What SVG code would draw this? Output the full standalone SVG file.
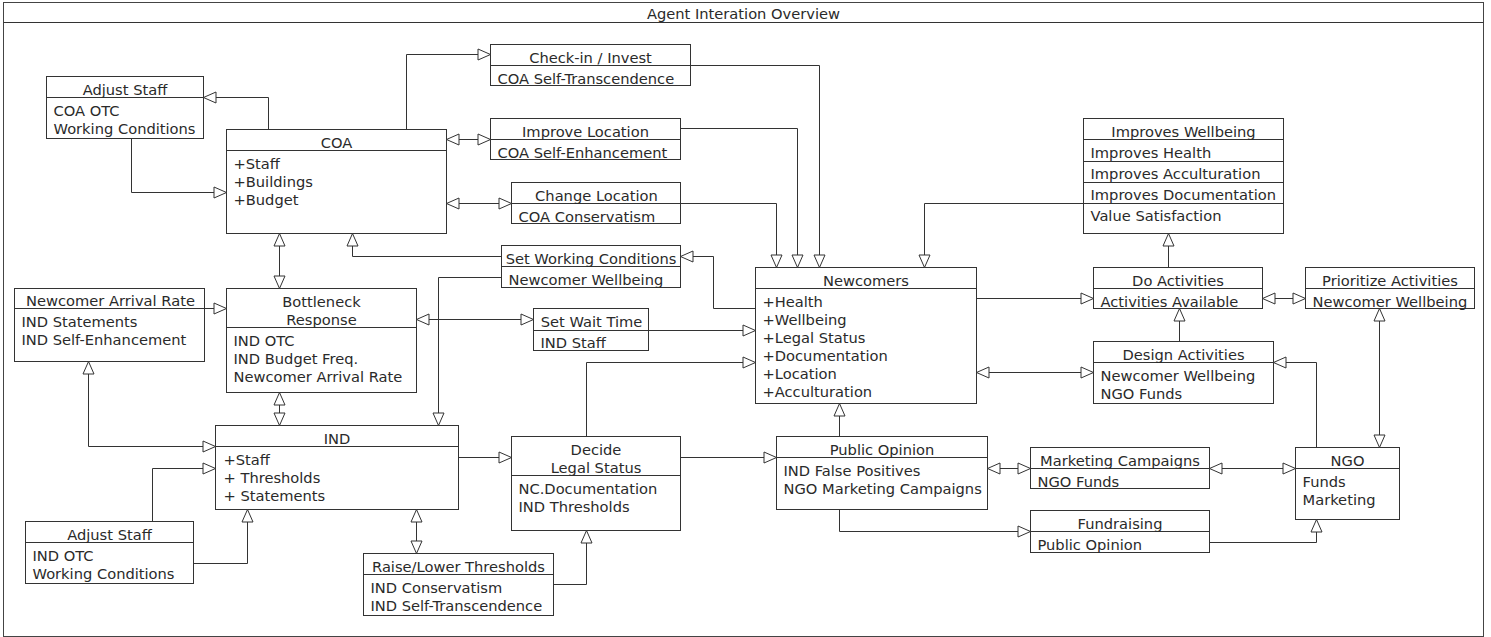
<svg xmlns="http://www.w3.org/2000/svg" width="1491" height="637" viewBox="0 0 1491 637">
  <style>
    .box { fill: #fff; stroke: #333; stroke-width: 1; }
    .sep { stroke: #333; stroke-width: 1; }
    .t { font-family: "DejaVu Sans", "Liberation Sans", sans-serif; font-size: 14.67px; fill: #2a2a2a; }
    .c { text-anchor: middle; }
    .wire { fill: none; stroke: #333; stroke-width: 1; marker-end: url(#tri); }
    .both { marker-start: url(#tri); }
    .frame { fill: #fff; stroke: #444; stroke-width: 1; }
  </style>
  <defs>
    <marker id="tri" viewBox="0 0 13 12" refX="13" refY="6" markerWidth="13" markerHeight="12" markerUnits="userSpaceOnUse" orient="auto-start-reverse" overflow="visible">
      <path d="M0.5,0.5 L13,6 L0.5,11.5 Z" fill="#fff" stroke="#333" stroke-width="1"/>
    </marker>
  </defs>
  <rect width="1491" height="637" fill="#fff"/>
  <g transform="translate(0.5,0.5)">
    <!-- outer frame with title bar -->
    <g id="frame">
      <rect class="frame" x="3" y="2" width="1480" height="634"/>
      <line class="sep" x1="3" y1="22" x2="1483" y2="22"/>
      <text class="t c" x="743" y="18.5">Agent Interation Overview</text>
    </g>

    <g id="adjust-staff-coa">
      <rect class="box" x="46" y="76" width="157" height="62"/>
      <line class="sep" x1="46" y1="97" x2="203" y2="97"/>
      <text class="t c" x="124.5" y="94">Adjust Staff</text>
      <text class="t" x="53" y="115">COA OTC</text>
      <text class="t" x="53" y="133">Working Conditions</text>
    </g>

    <g id="coa">
      <rect class="box" x="226" y="129" width="220" height="104"/>
      <line class="sep" x1="226" y1="150" x2="446" y2="150"/>
      <text class="t c" x="336" y="147">COA</text>
      <text class="t" x="233" y="168">+Staff</text>
      <text class="t" x="233" y="186">+Buildings</text>
      <text class="t" x="233" y="204">+Budget</text>
    </g>

    <g id="check-in-invest">
      <rect class="box" x="490" y="44" width="200" height="41"/>
      <line class="sep" x1="490" y1="65" x2="690" y2="65"/>
      <text class="t c" x="590" y="62">Check-in / Invest</text>
      <text class="t" x="497" y="83">COA Self-Transcendence</text>
    </g>

    <g id="improve-location">
      <rect class="box" x="490" y="118" width="190" height="41"/>
      <line class="sep" x1="490" y1="139" x2="680" y2="139"/>
      <text class="t c" x="585" y="136">Improve Location</text>
      <text class="t" x="497" y="157">COA Self-Enhancement</text>
    </g>

    <g id="change-location">
      <rect class="box" x="511" y="182" width="169" height="41"/>
      <line class="sep" x1="511" y1="203" x2="680" y2="203"/>
      <text class="t c" x="596" y="200">Change Location</text>
      <text class="t" x="518" y="221">COA Conservatism</text>
    </g>

    <g id="set-working-conditions">
      <rect class="box" x="501" y="245" width="179" height="42"/>
      <line class="sep" x1="501" y1="266" x2="680" y2="266"/>
      <text class="t c" x="590.5" y="263">Set Working Conditions</text>
      <text class="t" x="508" y="284">Newcomer Wellbeing</text>
    </g>

    <g id="set-wait-time">
      <rect class="box" x="533" y="308" width="115" height="42"/>
      <line class="sep" x1="533" y1="330" x2="648" y2="330"/>
      <text class="t c" x="591" y="326">Set Wait Time</text>
      <text class="t" x="540" y="347">IND Staff</text>
    </g>

    <g id="newcomers">
      <rect class="box" x="755" y="267" width="221" height="136"/>
      <line class="sep" x1="755" y1="288" x2="976" y2="288"/>
      <text class="t c" x="865.5" y="285">Newcomers</text>
      <text class="t" x="762" y="306">+Health</text>
      <text class="t" x="762" y="324">+Wellbeing</text>
      <text class="t" x="762" y="342">+Legal Status</text>
      <text class="t" x="762" y="360">+Documentation</text>
      <text class="t" x="762" y="378">+Location</text>
      <text class="t" x="762" y="396">+Acculturation</text>
    </g>

    <g id="improves-wellbeing">
      <rect class="box" x="1083" y="118" width="200" height="115"/>
      <line class="sep" x1="1083" y1="139" x2="1283" y2="139"/>
      <line class="sep" x1="1083" y1="161" x2="1283" y2="161"/>
      <line class="sep" x1="1083" y1="182" x2="1283" y2="182"/>
      <line class="sep" x1="1083" y1="203" x2="1283" y2="203"/>
      <text class="t c" x="1183" y="136">Improves Wellbeing</text>
      <text class="t" x="1090" y="157">Improves Health</text>
      <text class="t" x="1090" y="178">Improves Acculturation</text>
      <text class="t" x="1090" y="199">Improves Documentation</text>
      <text class="t" x="1090" y="220">Value Satisfaction</text>
    </g>

    <g id="do-activities">
      <rect class="box" x="1093" y="267" width="169" height="41"/>
      <line class="sep" x1="1093" y1="288" x2="1262" y2="288"/>
      <text class="t c" x="1177.5" y="285">Do Activities</text>
      <text class="t" x="1100" y="306">Activities Available</text>
    </g>

    <g id="prioritize-activities">
      <rect class="box" x="1305" y="267" width="169" height="41"/>
      <line class="sep" x1="1305" y1="288" x2="1474" y2="288"/>
      <text class="t c" x="1389.5" y="285">Prioritize Activities</text>
      <text class="t" x="1312" y="306">Newcomer Wellbeing</text>
    </g>

    <g id="design-activities">
      <rect class="box" x="1093" y="341" width="180" height="62"/>
      <line class="sep" x1="1093" y1="362" x2="1273" y2="362"/>
      <text class="t c" x="1183" y="359">Design Activities</text>
      <text class="t" x="1100" y="380">Newcomer Wellbeing</text>
      <text class="t" x="1100" y="398">NGO Funds</text>
    </g>

    <g id="newcomer-arrival-rate">
      <rect class="box" x="14" y="288" width="190" height="73"/>
      <line class="sep" x1="14" y1="308" x2="204" y2="308"/>
      <text class="t c" x="110" y="305">Newcomer Arrival Rate</text>
      <text class="t" x="21" y="326">IND Statements</text>
      <text class="t" x="21" y="344">IND Self-Enhancement</text>
    </g>

    <g id="bottleneck-response">
      <rect class="box" x="226" y="288" width="190" height="104"/>
      <line class="sep" x1="226" y1="327" x2="416" y2="327"/>
      <text class="t c" x="321" y="306">Bottleneck</text>
      <text class="t c" x="321" y="324">Response</text>
      <text class="t" x="233" y="345">IND OTC</text>
      <text class="t" x="233" y="363">IND Budget Freq.</text>
      <text class="t" x="233" y="381">Newcomer Arrival Rate</text>
    </g>

    <g id="ind">
      <rect class="box" x="215" y="425" width="243" height="84"/>
      <line class="sep" x1="215" y1="446" x2="458" y2="446"/>
      <text class="t c" x="336.5" y="443">IND</text>
      <text class="t" x="223" y="464">+Staff</text>
      <text class="t" x="223" y="482">+ Thresholds</text>
      <text class="t" x="223" y="500">+ Statements</text>
    </g>

    <g id="adjust-staff-ind">
      <rect class="box" x="25" y="521" width="168" height="62"/>
      <line class="sep" x1="25" y1="542" x2="193" y2="542"/>
      <text class="t c" x="109" y="539">Adjust Staff</text>
      <text class="t" x="32" y="560">IND OTC</text>
      <text class="t" x="32" y="578">Working Conditions</text>
    </g>

    <g id="raise-lower-thresholds">
      <rect class="box" x="363" y="553" width="190" height="62"/>
      <line class="sep" x1="363" y1="574" x2="553" y2="574"/>
      <text class="t c" x="458" y="571">Raise/Lower Thresholds</text>
      <text class="t" x="370" y="592">IND Conservatism</text>
      <text class="t" x="370" y="610">IND Self-Transcendence</text>
    </g>

    <g id="decide-legal-status">
      <rect class="box" x="511" y="436" width="169" height="94"/>
      <line class="sep" x1="511" y1="475" x2="680" y2="475"/>
      <text class="t c" x="595.5" y="454">Decide</text>
      <text class="t c" x="595.5" y="472">Legal Status</text>
      <text class="t" x="518" y="493">NC.Documentation</text>
      <text class="t" x="518" y="511">IND Thresholds</text>
    </g>

    <g id="public-opinion">
      <rect class="box" x="776" y="436" width="211" height="73"/>
      <line class="sep" x1="776" y1="457" x2="987" y2="457"/>
      <text class="t c" x="881.5" y="454">Public Opinion</text>
      <text class="t" x="783" y="475">IND False Positives</text>
      <text class="t" x="783" y="493">NGO Marketing Campaigns</text>
    </g>

    <g id="marketing-campaigns">
      <rect class="box" x="1030" y="447" width="179" height="41"/>
      <line class="sep" x1="1030" y1="468" x2="1209" y2="468"/>
      <text class="t c" x="1119.5" y="465">Marketing Campaigns</text>
      <text class="t" x="1037" y="486">NGO Funds</text>
    </g>

    <g id="fundraising">
      <rect class="box" x="1030" y="510" width="179" height="42"/>
      <line class="sep" x1="1030" y1="531" x2="1209" y2="531"/>
      <text class="t c" x="1119.5" y="528">Fundraising</text>
      <text class="t" x="1037" y="549">Public Opinion</text>
    </g>

    <g id="ngo">
      <rect class="box" x="1295" y="447" width="104" height="72"/>
      <line class="sep" x1="1295" y1="468" x2="1399" y2="468"/>
      <text class="t c" x="1347" y="465">NGO</text>
      <text class="t" x="1302" y="486">Funds</text>
      <text class="t" x="1302" y="504">Marketing</text>
    </g>

    <!-- connectors: open triangle heads, both ends where the relation is mutual -->
    <g id="connectors">
      <path class="wire" d="M268,129 V97 H203"/>
      <path class="wire" d="M131,138 V192 H226"/>
      <path class="wire" d="M406,129 V54 H490"/>
      <path class="wire both" d="M446,139 H490"/>
      <path class="wire both" d="M446,203 H511"/>
      <path class="wire" d="M690,65 H819 V267"/>
      <path class="wire" d="M680,128 H797 V267"/>
      <path class="wire" d="M680,203 H776 V267"/>
      <path class="wire" d="M1083,203 H924 V267"/>
      <path class="wire" d="M755,308 H713 V256 H680"/>
      <path class="wire" d="M501,256 H352 V233"/>
      <path class="wire" d="M501,277 H438 V425"/>
      <path class="wire both" d="M279,233 V288"/>
      <path class="wire" d="M204,308 H226"/>
      <path class="wire both" d="M416,319 H533"/>
      <path class="wire" d="M648,330 H755"/>
      <path class="wire" d="M586,436 V362 H755"/>
      <path class="wire both" d="M279,392 V425"/>
      <path class="wire both" d="M88,361 V446 H215"/>
      <path class="wire" d="M152,521 V468 H215"/>
      <path class="wire" d="M193,563 H247 V509"/>
      <path class="wire both" d="M416,509 V553"/>
      <path class="wire" d="M458,457 H511"/>
      <path class="wire" d="M553,584 H586 V530"/>
      <path class="wire" d="M680,457 H776"/>
      <path class="wire" d="M839,436 V403"/>
      <path class="wire" d="M839,509 V531 H1030"/>
      <path class="wire both" d="M987,468 H1030"/>
      <path class="wire both" d="M1209,468 H1295"/>
      <path class="wire" d="M1209,542 H1316 V519"/>
      <path class="wire" d="M1316,447 V362 H1273"/>
      <path class="wire both" d="M1379,308 V447"/>
      <path class="wire both" d="M1262,298 H1305"/>
      <path class="wire" d="M976,298 H1093"/>
      <path class="wire" d="M1168,267 V233"/>
      <path class="wire" d="M1179,341 V308"/>
      <path class="wire both" d="M976,372 H1093"/>
    </g>
  </g>
</svg>
